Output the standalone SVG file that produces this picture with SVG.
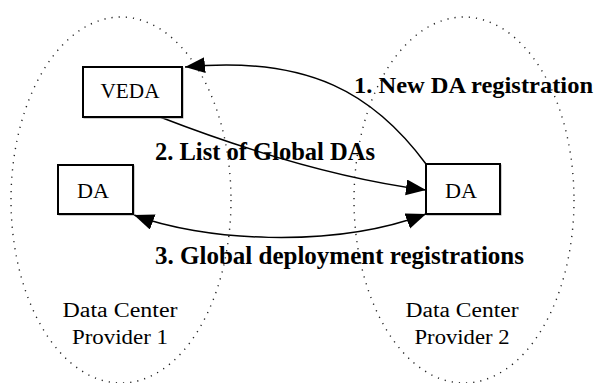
<svg xmlns="http://www.w3.org/2000/svg" width="597" height="383" viewBox="0 0 597 383">
<style>
.region{fill:none;stroke:#222;stroke-width:1.4;stroke-dasharray:1.2 6;}
.box{fill:#fff;stroke:#000;stroke-width:2;}
.shadow{fill:none;stroke:#999;stroke-width:1;}
.lbl{font-family:"Liberation Serif","Times New Roman",serif;font-size:20px;fill:#000;text-anchor:middle;}
.edge{font-family:"Liberation Serif","Times New Roman",serif;font-size:26px;font-weight:bold;fill:#000;}
.conn{fill:none;stroke:#000;stroke-width:1.5;}
</style>
<defs>
<marker id="ah" markerUnits="userSpaceOnUse" markerWidth="22" markerHeight="18" refX="20" refY="8" orient="auto-start-reverse">
<path d="M0,0 L20,8 L0,16 z" fill="#000"/>
</marker>
</defs>
<rect width="597" height="383" fill="#fff"/>
<g id="provider1">
<ellipse class="region" cx="121" cy="200" rx="110" ry="183"/>
<text class="lbl" x="120" y="317" textLength="115" lengthAdjust="spacingAndGlyphs">Data Center</text>
<text class="lbl" x="120" y="344" textLength="96" lengthAdjust="spacingAndGlyphs">Provider 1</text>
</g>
<g id="provider2">
<ellipse class="region" cx="464" cy="200" rx="110" ry="183"/>
<text class="lbl" x="462" y="317" textLength="113" lengthAdjust="spacingAndGlyphs">Data Center</text>
<text class="lbl" x="462" y="344" textLength="95" lengthAdjust="spacingAndGlyphs">Provider 2</text>
</g>
<g id="connectors">
<path class="conn" d="M426,164 C375,95 310,55 185,67" marker-end="url(#ah)"/>
<path class="conn" d="M160,117 Q310,175 426,190" marker-end="url(#ah)"/>
<path class="conn" d="M134,215 C200,240 330,250 426,214" marker-start="url(#ah)" marker-end="url(#ah)"/>
<text class="edge" x="354" y="93" style="font-size:24px" textLength="239" lengthAdjust="spacingAndGlyphs">1. New DA registration</text>
<text class="edge" x="155" y="160" textLength="220" lengthAdjust="spacingAndGlyphs">2. List of Global DAs</text>
<text class="edge" x="155" y="264" textLength="369" lengthAdjust="spacingAndGlyphs">3. Global deployment registrations</text>
</g>
<g id="veda">
<rect class="shadow" x="84" y="68" width="99" height="50"/>
<rect class="box" x="83" y="67" width="99" height="50"/>
<text class="lbl" x="130" y="98" textLength="59" lengthAdjust="spacingAndGlyphs">VEDA</text>
</g>
<g id="da1">
<rect class="shadow" x="59" y="166" width="75" height="49"/>
<rect class="box" x="58" y="165" width="75" height="49"/>
<text class="lbl" x="93" y="198" textLength="32" lengthAdjust="spacingAndGlyphs">DA</text>
</g>
<g id="da2">
<rect class="shadow" x="427" y="165" width="74" height="50"/>
<rect class="box" x="426" y="164" width="74" height="50"/>
<text class="lbl" x="461" y="198" textLength="32" lengthAdjust="spacingAndGlyphs">DA</text>
</g>
</svg>
